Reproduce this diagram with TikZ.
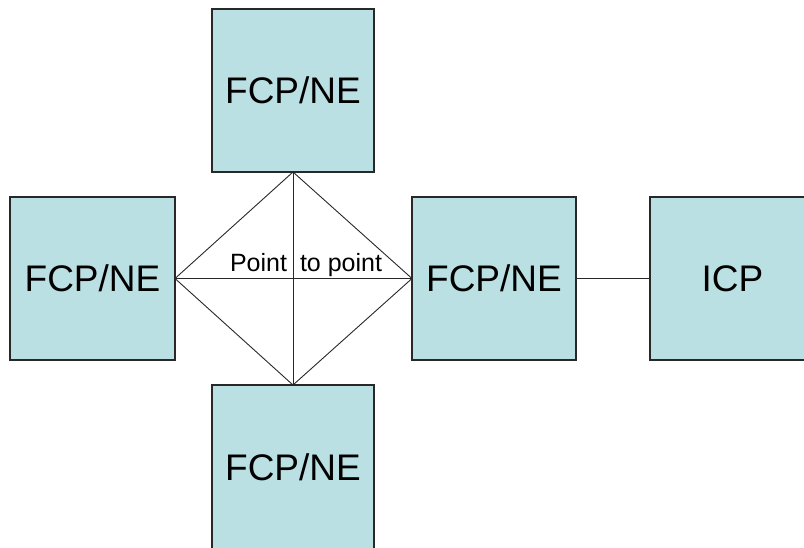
\documentclass[tikz,border=0pt]{standalone}
\usepackage{fontspec}
\setmainfont{Liberation Sans}
\definecolor{boxc}{RGB}{187,224,227}
\definecolor{edgec}{RGB}{40,40,40}
\begin{document}
\begin{tikzpicture}[x=1pt,y=-1pt,
  box/.style={draw=edgec, line width=1.2pt, fill=boxc, inner sep=0pt, outer sep=0pt,
    minimum height=163pt, font=\fontsize{37}{37}\selectfont},
  link/.style={draw=edgec, line width=0.9pt},
  lbl/.style={inner sep=0pt, outer sep=0pt, font=\fontsize{25}{25}\selectfont}]
\useasboundingbox (0,0) rectangle (804,547);
\node[box, minimum width=162pt] (top) at (293,90.5) {FCP/NE};
\node[box, minimum width=165pt] (left) at (92.5,278.5) {FCP/NE};
\node[box, minimum width=164pt] (mid) at (494,278.5) {FCP/NE};
\node[box, minimum width=165pt] (icp) at (732.5,278.5) {ICP};
\node[box, minimum width=162pt, minimum height=170pt] (bot) at (293,470) {\raisebox{6pt}{FCP/NE}};
\draw[link] (top.south) -- (left.east) -- (bot.north) -- (mid.west) -- cycle;
\draw[link] (top.south) -- (bot.north);
\draw[link] (left.east) -- (mid.west);
\draw[link] (mid.east) -- (icp.west);
\node[lbl, anchor=base east] (p1) at (287,271) {Point};
\node[lbl, anchor=base west] (p2) at (300,271) {to point};
\end{tikzpicture}
\end{document}
